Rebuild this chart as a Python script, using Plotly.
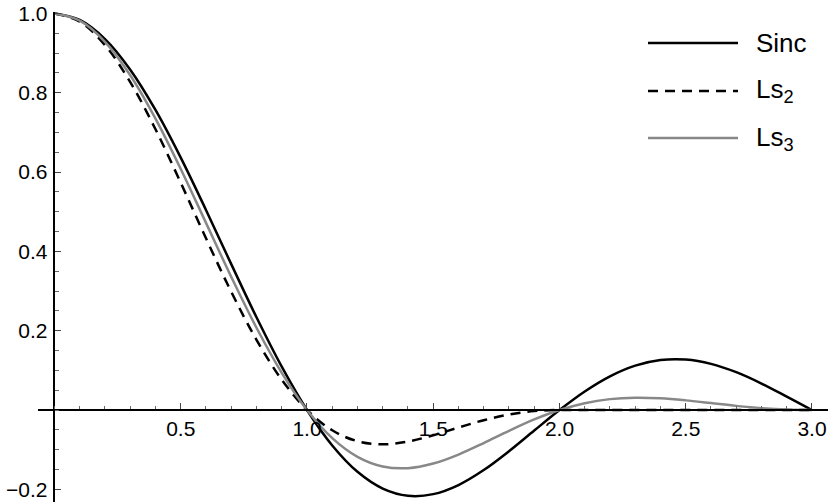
import plotly.graph_objects as go

# ---- data ----
x_vals = [round(0.1 * i, 1) for i in range(31)]

sinc = [1.0, 0.98363, 0.93549, 0.85839, 0.75683, 0.63662, 0.50455, 0.36788, 0.23387, 0.10929,
        0.0, -0.08942, -0.15592, -0.19809, -0.21624, -0.21221, -0.18921, -0.15148, -0.10394, -0.05177,
        0.0, 0.04684, 0.08505, 0.11196, 0.12614, 0.12732, 0.11644, 0.09538, 0.06682, 0.03392, 0.0]

ls2 = [1.0, 0.97959, 0.92018, 0.82697, 0.70801, 0.57316, 0.43310, 0.29811, 0.17700, 0.07636,
       0.0, -0.05111, -0.07867, -0.08643, -0.07955, -0.06369, -0.04425, -0.02575, -0.01136, -0.00271,
       0.0, 0.0, 0.0, 0.0, 0.0, 0.0, 0.0, 0.0, 0.0, 0.0, 0.0]

ls3 = [1.0, 0.98183, 0.92867, 0.84434, 0.73489, 0.60793, 0.47200, 0.33581, 0.20746, 0.09381,
       0.0, -0.07092, -0.11800, -0.14233, -0.14669, -0.13510, -0.11231, -0.08323, -0.05244, -0.02377,
       0.0, 0.01723, 0.02743, 0.03110, 0.02950, 0.02432, 0.01740, 0.01042, 0.00474, 0.00117, 0.0]

x_tickvals = [0.5, 1.0, 1.5, 2.0, 2.5, 3.0]
x_ticktext = ["0.5", "1.0", "1.5", "2.0", "2.5", "3.0"]
y_tickvals = [-0.2, 0.2, 0.4, 0.6, 0.8, 1.0]
y_ticktext = ["\u22120.2", "0.2", "0.4", "0.6", "0.8", "1.0"]

legend_names = ["Sinc", "Ls<sub>2</sub>", "Ls<sub>3</sub>"]

# ---- layout geometry ----
W, H = 830, 504
ML, MR, MT, MB = 38, 2, 12, 2
XR = [-0.0653, 3.0634]
YR = [-0.232, 1.0038]
FONT = "Liberation Sans, Arial, Helvetica, sans-serif"

styles = [dict(color="black", width=2.5),
          dict(color="black", width=2.5, dash="10px,7px"),
          dict(color="#888888", width=2.5)]

fig = go.Figure()
for ys, st in zip([sinc, ls2, ls3], styles):
    fig.add_trace(go.Scatter(x=x_vals, y=ys, mode="lines", line=dict(shape="spline", **st),
                             showlegend=False, hoverinfo="skip"))

xpos = (0 - YR[0]) / (YR[1] - YR[0])
ypos = (0 - XR[0]) / (XR[1] - XR[0])

fig.update_layout(
    width=W, height=H,
    margin=dict(l=ML, r=MR, t=MT, b=MB),
    paper_bgcolor="white", plot_bgcolor="white",
    font=dict(family=FONT, color="black", size=21),
    xaxis=dict(range=XR, anchor="free", position=xpos, showline=True, linecolor="black", linewidth=1.5,
               showgrid=False, zeroline=False, tickvals=x_tickvals, ticktext=x_ticktext,
               ticks="inside", ticklen=6, tickwidth=1, tickcolor="#444444",
               tickfont=dict(size=21, family=FONT), ticklabeloverflow="allow",
               minor=dict(dtick=0.1, tick0=0, ticks="inside", ticklen=3.5, tickwidth=1, tickcolor="#666666")),
    yaxis=dict(range=YR, anchor="free", position=ypos, showline=True, linecolor="black", linewidth=1.5,
               showgrid=False, zeroline=False, tickvals=y_tickvals, ticktext=y_ticktext,
               ticks="inside", ticklen=6, tickwidth=1, tickcolor="#444444",
               tickfont=dict(size=21, family=FONT), ticklabeloverflow="allow", ticklabelstandoff=2,
               minor=dict(dtick=0.05, tick0=0, ticks="inside", ticklen=3.5, tickwidth=1, tickcolor="#666666")),
)

# ---- manual legend (pixel positions converted to paper coords) ----
pw, ph = W - ML - MR, H - MT - MB
def px(xp):
    return (xp - ML) / pw
def py(yp):
    return 1 - (yp - MT) / ph

rows = [43, 91, 138]
for yp, st, name in zip(rows, styles, legend_names):
    fig.add_shape(type="line", xref="paper", yref="paper", x0=px(648), x1=px(738), y0=py(yp), y1=py(yp),
                  line=st)
    fig.add_annotation(xref="paper", yref="paper", x=px(754), y=py(yp), text=name, showarrow=False,
                       xanchor="left", yanchor="middle", font=dict(size=26, family=FONT, color="black"))

fig.write_html("out.html", config={"displayModeBar": False},
               post_script="document.body.style.margin='0';")
